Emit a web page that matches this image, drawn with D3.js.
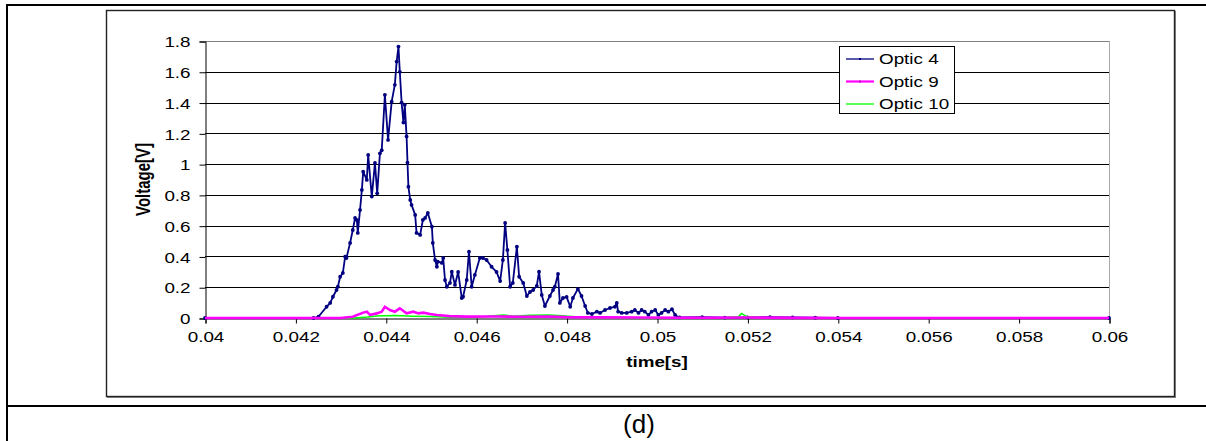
<!DOCTYPE html>
<html>
<head>
<meta charset="utf-8">
<script src="https://cdn.jsdelivr.net/npm/d3@7.9.0/dist/d3.min.js"></script>
<style>
  body { margin: 0; background: #fff; }
  svg { display: block; font-family: Arial, "Liberation Sans", sans-serif; }
</style>
</head>
<body>
<svg id="chart" width="1206" height="441"></svg>
<script>
// series names and axis ticks
const seriesNames = ['Optic 4', 'Optic 9', 'Optic 10'];
const yTicks = [0, 0.2, 0.4, 0.6, 0.8, 1, 1.2, 1.4, 1.6, 1.8];
const xTicks = [0.04, 0.042, 0.044, 0.046, 0.048, 0.05, 0.052, 0.054, 0.056, 0.058, 0.06];

// [time s, voltage V]
const optic4 = [
  [0.04, 0], [0.0424, 0], [0.04251, 0.008], [0.04269, 0.073], [0.04277, 0.098], [0.04283, 0.138],
  [0.04291, 0.182], [0.04294, 0.203], [0.04299, 0.268], [0.04305, 0.293], [0.0431, 0.398],
  [0.04313, 0.39], [0.04321, 0.488], [0.04327, 0.572], [0.04332, 0.65], [0.04336, 0.637],
  [0.04338, 0.553], [0.04343, 0.702], [0.04347, 0.832], [0.0435, 0.951], [0.04358, 0.897],
  [0.04361, 1.06], [0.04369, 0.789], [0.04376, 1.008], [0.04381, 0.81], [0.04387, 1.07],
  [0.04391, 1.09], [0.04398, 1.45], [0.04405, 1.157], [0.04413, 1.406], [0.0442, 1.515],
  [0.04424, 1.666], [0.04428, 1.764], [0.04431, 1.6], [0.04435, 1.4], [0.04439, 1.27],
  [0.04442, 1.385], [0.04446, 1.18], [0.04448, 1.01], [0.0445, 0.853], [0.04454, 0.767],
  [0.04457, 0.735], [0.04465, 0.67], [0.04468, 0.553], [0.04476, 0.54], [0.04482, 0.637],
  [0.04487, 0.65], [0.04493, 0.683], [0.04502, 0.593], [0.04504, 0.488], [0.04509, 0.377],
  [0.04513, 0.333], [0.04515, 0.366], [0.04524, 0.358], [0.04527, 0.39], [0.04531, 0.247],
  [0.04535, 0.203], [0.04542, 0.228], [0.04546, 0.301], [0.04553, 0.215], [0.0456, 0.299],
  [0.04568, 0.13], [0.04571, 0.138], [0.04579, 0.247], [0.04584, 0.431], [0.0459, 0.203],
  [0.04597, 0.28], [0.04608, 0.39], [0.04615, 0.39], [0.04623, 0.377], [0.04634, 0.333],
  [0.04645, 0.299], [0.04653, 0.24], [0.04659, 0.377], [0.04664, 0.618], [0.04669, 0.442],
  [0.04675, 0.203], [0.04681, 0.228], [0.0469, 0.463], [0.04695, 0.268], [0.04704, 0.228],
  [0.04712, 0.143], [0.04719, 0.169], [0.04726, 0.182], [0.04734, 0.208], [0.04739, 0.301],
  [0.04745, 0.15], [0.04752, 0.078], [0.04763, 0.143], [0.0477, 0.182], [0.04774, 0.203],
  [0.04781, 0.286], [0.04785, 0.098], [0.04792, 0.13], [0.048, 0.137], [0.04808, 0.073],
  [0.04814, 0.13], [0.04825, 0.189], [0.04833, 0.143], [0.04841, 0.078], [0.04847, 0.033],
  [0.04856, 0.026], [0.04867, 0.041], [0.04874, 0.033], [0.04885, 0.052], [0.04896, 0.065],
  [0.04907, 0.073], [0.04911, 0.098], [0.04914, 0.041], [0.04922, 0.033], [0.04933, 0.033],
  [0.04944, 0.041], [0.04951, 0.052], [0.04959, 0.033], [0.04966, 0.052], [0.04973, 0.041],
  [0.04981, 0.02], [0.04988, 0.041], [0.04996, 0.052], [0.05003, 0.02], [0.0501, 0.033],
  [0.05018, 0.052], [0.05025, 0.041], [0.05033, 0.057], [0.0504, 0.02], [0.05044, 0.005],
  [0.0505, 0.004], [0.051, 0.005], [0.0515, 0.003], [0.052, 0.004], [0.0525, 0.006],
  [0.053, 0.004], [0.0535, 0.002], [0.054, 0], [0.06, 0]
];

const optic9 = [
  [0.04, 0], [0.043, 0], [0.04327, 0.008], [0.0435, 0.035], [0.04358, 0.041], [0.04365, 0.02],
  [0.0438, 0.03], [0.04391, 0.041], [0.04398, 0.073], [0.04409, 0.052], [0.0442, 0.041],
  [0.04431, 0.063], [0.04446, 0.03], [0.04461, 0.041], [0.04472, 0.03], [0.04483, 0.035],
  [0.04498, 0.026], [0.04513, 0.02], [0.0454, 0.012], [0.0458, 0.009], [0.0464, 0.01],
  [0.047, 0.008], [0.0476, 0.01], [0.048, 0.006], [0.0488, 0.004], [0.0496, 0.003],
  [0.0505, 0.002], [0.0512, 0.002], [0.052, 0.003], [0.053, 0.001], [0.054, 0], [0.06, 0]
];

const optic10 = [
  [0.04, 0], [0.0433, 0], [0.0436, 0.006], [0.0438, 0.013], [0.0442, 0.016], [0.0446, 0.012],
  [0.045, 0.01], [0.0454, 0.005], [0.0458, 0.006], [0.0462, 0.01], [0.0466, 0.02],
  [0.0468, 0.012], [0.0472, 0.018], [0.0476, 0.02], [0.0479, 0.015], [0.0482, 0.008],
  [0.0485, 0.004], [0.049, 0.003], [0.0495, 0.002], [0.05, 0.002], [0.0515, 0.001],
  [0.0518, 0.008], [0.05187, 0.03], [0.052, 0.006], [0.0525, 0.002], [0.053, 0], [0.06, 0]
];

const colors = ['#000080', '#ff00ff', '#00ff00'];
const sx = 1.3; // chart picture is stretched sideways

const svg = d3.select('#chart');

// page table lines
svg.append('rect').attr('x', 6).attr('y', 4).attr('width', 1200).attr('height', 2).attr('fill', '#000');
svg.append('rect').attr('x', 6).attr('y', 4).attr('width', 2).attr('height', 437).attr('fill', '#000');
svg.append('rect').attr('x', 6).attr('y', 405).attr('width', 1200).attr('height', 2).attr('fill', '#000');

// chart frame
svg.append('rect').attr('x', 106.5).attr('y', 10.5).attr('width', 1068).attr('height', 386)
  .attr('fill', '#fff').attr('stroke', '#222').attr('stroke-width', 1.4);
svg.append('line').attr('x1', 1175.5).attr('x2', 1175.5).attr('y1', 11).attr('y2', 398)
  .attr('stroke', '#777').attr('stroke-width', 1);
svg.append('line').attr('x1', 107).attr('x2', 1176).attr('y1', 397.5).attr('y2', 397.5)
  .attr('stroke', '#777').attr('stroke-width', 1);

const x = d3.scaleLinear().domain([0.04, 0.06]).range([205, 1109]);
const y = d3.scaleLinear().domain([0, 1.8]).range([318, 41]);

// gridlines
svg.append('g').selectAll('line')
  .data(yTicks.filter(d => d > 0))
  .join('line')
  .attr('x1', x(0.04)).attr('x2', x(0.06))
  .attr('y1', d => Math.round(y(d)) + 0.5).attr('y2', d => Math.round(y(d)) + 0.5)
  .attr('stroke', d => d === 1.8 ? '#808080' : '#000').attr('stroke-width', 1);

// right edge of plot area
svg.append('line').attr('x1', x(0.06) + 0.5).attr('x2', x(0.06) + 0.5)
  .attr('y1', y(1.8)).attr('y2', y(0)).attr('stroke', '#a8a8a8');

// axes
const yAxis = svg.append('g').attr('transform', `translate(${x(0.04) + 0.5},0.5)`)
  .call(d3.axisLeft(y).tickValues(yTicks).tickSize(6).tickFormat(d => String(+d.toFixed(1))));
const xAxis = svg.append('g').attr('transform', `translate(0.5,${y(0) + 0.5})`)
  .call(d3.axisBottom(x).tickValues(xTicks).tickSize(5).tickFormat(d => String(+d.toFixed(3))));

[yAxis, xAxis].forEach(a => {
  a.select('.domain').attr('stroke', '#000');
  a.selectAll('.tick line').attr('stroke', '#000');
  a.selectAll('text').attr('fill', '#000').attr('font-size', 14.5)
    .attr('font-family', 'Arial, "Liberation Sans", sans-serif');
});
yAxis.selectAll('text').attr('x', -11.5).attr('dy', '0.36em').attr('transform', `scale(${sx},1)`);
xAxis.selectAll('text').attr('y', 13).attr('dy', '0.71em').attr('transform', `scale(${sx},1)`);

// axis titles
svg.append('text')
  .attr('transform', `translate(150,${(y(0) + y(1.8)) / 2}) rotate(-90) scale(1,${sx})`)
  .attr('text-anchor', 'middle')
  .attr('font-size', 15).attr('font-weight', 'bold')
  .text('Voltage[V]');
svg.append('text')
  .attr('transform', `translate(${(x(0.04) + x(0.06)) / 2},367) scale(${sx},1)`)
  .attr('text-anchor', 'middle')
  .attr('font-size', 14.5).attr('font-weight', 'bold')
  .text('time[s]');

// lines
const line = d3.line().x(d => x(d[0])).y(d => y(d[1]));
const plot = svg.append('g');

plot.append('path').datum(optic4).attr('d', line)
  .attr('fill', 'none').attr('stroke', colors[0]).attr('stroke-width', 1.8).attr('stroke-linejoin', 'round');
plot.append('g').selectAll('circle').data(optic4).join('circle')
  .attr('cx', d => x(d[0])).attr('cy', d => y(d[1])).attr('r', 1.9).attr('fill', colors[0]);

plot.append('path').datum(optic10).attr('d', line)
  .attr('fill', 'none').attr('stroke', colors[2]).attr('stroke-width', 1.5);
plot.append('path').datum(optic9).attr('d', line)
  .attr('fill', 'none').attr('stroke', colors[1]).attr('stroke-width', 2.6);

// legend
const legend = svg.append('g');
legend.append('rect').attr('x', 839.5).attr('y', 46.5).attr('width', 115).attr('height', 67)
  .attr('fill', '#fff').attr('stroke', '#000').attr('stroke-width', 1);

seriesNames.forEach((name, i) => {
  const ly = 59 + i * 22.5;
  legend.append('line').attr('x1', 846).attr('x2', 874).attr('y1', ly).attr('y2', ly)
    .attr('stroke', colors[i]).attr('stroke-width', i === 1 ? 2.2 : 1.3);
  if (i < 2) {
    legend.append('rect').attr('x', 859).attr('y', ly - 1).attr('width', 2).attr('height', 2)
      .attr('fill', colors[i] === '#ff00ff' ? '#c000c0' : colors[i]);
  }
  legend.append('text')
    .attr('transform', `translate(879,${ly + 5}) scale(${sx},1)`)
    .attr('font-size', 14.5)
    .text(name);
});

// caption
svg.append('text').attr('x', 639).attr('y', 433).attr('text-anchor', 'middle')
  .attr('font-size', 26).text('(d)');
</script>
</body>
</html>
